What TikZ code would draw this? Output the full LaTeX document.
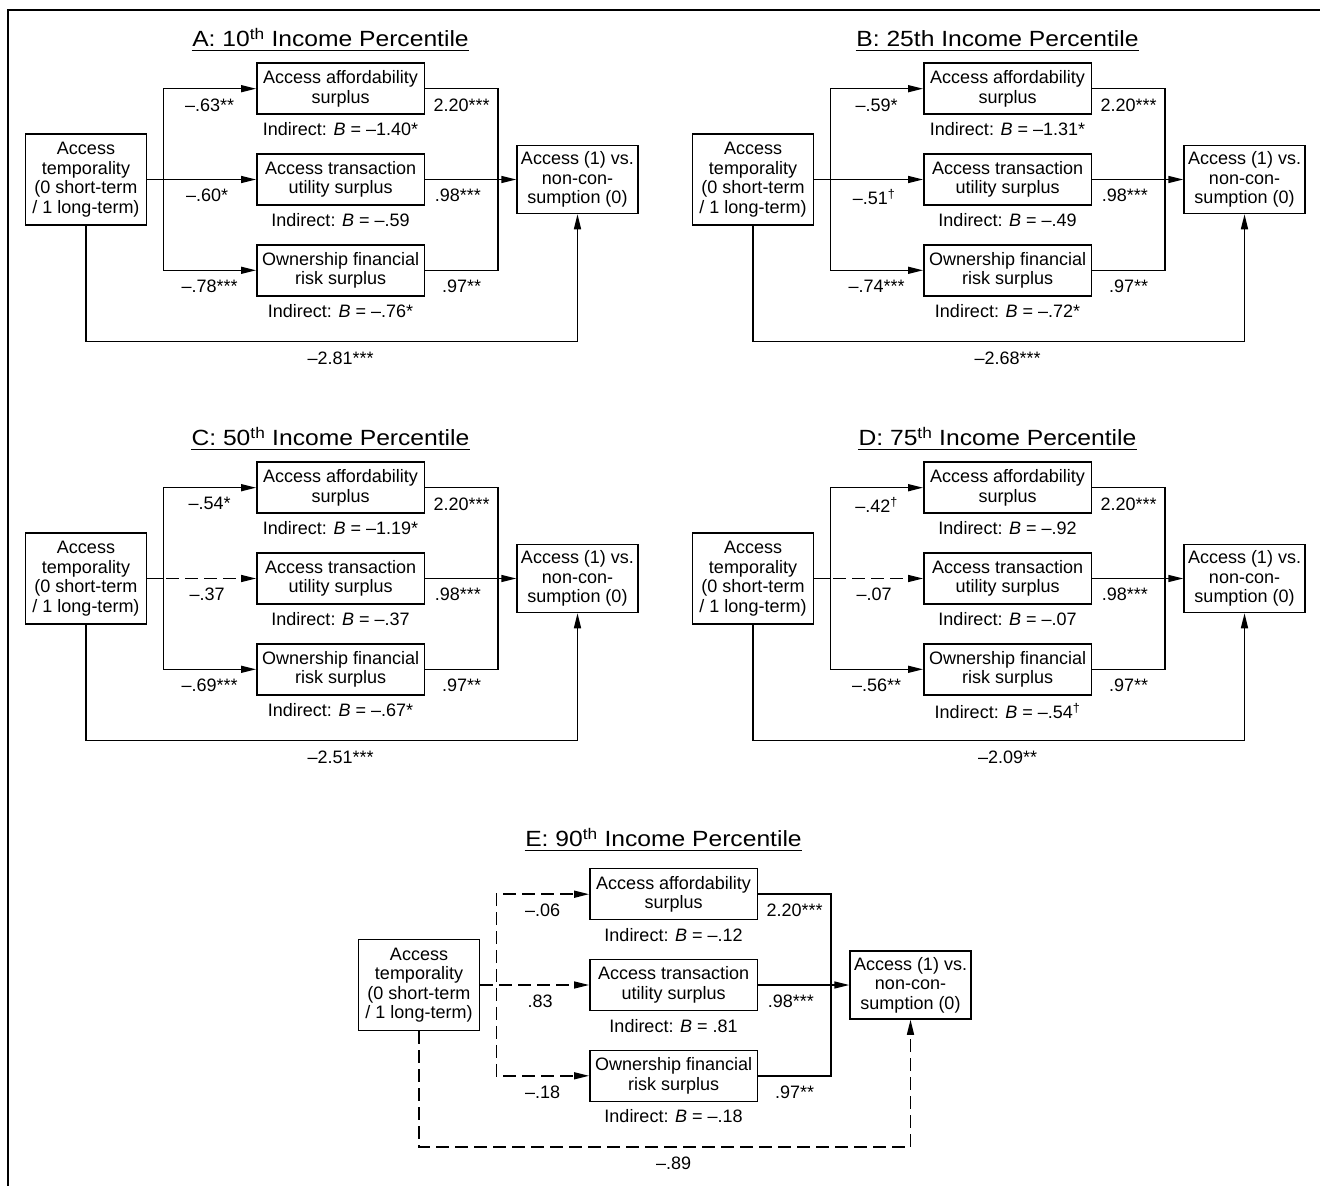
\documentclass[tikz,border=0pt]{standalone}
\usepackage{fontspec}
\setmainfont{Liberation Sans}
\newfontfamily\ttlfont[FakeStretch=1.12]{Liberation Sans}
\usepackage{tikz}
\usetikzlibrary{arrows.meta}

%one panel: name, title, three a paths, three indirect effects, direct path
\newcommand{\mediation}[9]{
		%title
		\node[ttl, ttlpos] (#1-ttl) at (330.5, 46.7) {#2};
		\draw[line width = 1.3pt] ([yshift = -3.5pt]#1-ttl.base west) -- ([yshift = -3.5pt]#1-ttl.base east);
		%boxes
		\node[box, minimum width = 121, minimum height = 91] (#1-src) at (86, 179.5) {Access\\temporality\\(0 short-term\\/ 1 long-term)};
		\node[box, minimum width = 167.6, minimum height = 51] (#1-aff) at (340.6, 88.7) {Access affordability\\surplus};
		\node[box, minimum width = 167.6, minimum height = 51] (#1-trn) at (340.6, 179.5) {Access transaction\\utility surplus};
		\node[box, minimum width = 167.6, minimum height = 51] (#1-own) at (340.6, 270.3) {Ownership financial\\risk surplus};
		\node[box, minimum width = 121, minimum height = 68] (#1-out) at (577.5, 179.5) {Access (1) vs.\\non-con-\\sumption (0)};
		\coordinate (#1-br) at (163.4, 179.5);
		\coordinate (#1-mg) at (498.1, 179.5);
		\coordinate (#1-lp) at (340.6, 341.7);
		%a paths
		\draw[arr, aone] (#1-src) -- (#1-br) |- node[lab, pos = 0.75] (#1-a1) {#3} (#1-aff);
		\draw[arr, atwo] (#1-src) -- node[lab, pos = 0.55] (#1-a2) {#4} (#1-trn);
		\draw[arr, athree] (#1-src) -- (#1-br) |- node[lab, pos = 0.75] (#1-a3) {#5} (#1-own);
		%b paths
		\draw (#1-aff) -| node[lab, pos = 0.25] (#1-b1) {2.20***} (#1-mg);
		\draw[arr] (#1-trn) -- node[lab, pos = 0.36] (#1-b2) {.98***} (#1-out);
		\draw (#1-own) -| node[lab, pos = 0.25] (#1-b3) {.97**} (#1-mg);
		%indirect effects
		\node[ind] (#1-i1) at (#1-aff.south) {Indirect: \textit{B} = #6};
		\node[ind] (#1-i2) at (#1-trn.south) {Indirect: \textit{B} = #7};
		\node[ind] (#1-i3) at (#1-own.south) {Indirect: \textit{B} = #8};
		%direct path
		\draw[arr, cpath] (#1-src) |- (#1-lp) -| (#1-out);
		\node[lab] (#1-c) at (#1-lp) {#9};
}

\begin{document}
\begin{tikzpicture}[x = 1pt, y = -1pt, line width = 1.5pt]
		\tikzset{every node/.style={font = \fontsize{18}{19.5}\selectfont}}
		\tikzset{box/.style={shape = rectangle, draw, align = center, inner sep = 1pt}}
		\tikzset{ttl/.style={font = \ttlfont\fontsize{22}{26}\selectfont, anchor = base, inner sep = 0pt}}
		\tikzset{lab/.style={below = 9pt, inner sep = 0pt}}
		\tikzset{ind/.style={below = 7pt, inner sep = 0pt}}
		\tikzset{arr/.style={-{Triangle[length = 15pt, width = 7pt]}}}
		\tikzset{dashline/.style={dash pattern = on 13pt off 6pt}}
		\tikzset{aone/.style={}, atwo/.style={}, athree/.style={}, cpath/.style={}, ttlpos/.style={}}
		\useasboundingbox (0, 0) rectangle (1320, 1186);
		%frame
		\draw[line width = 2.3pt] (1320, 10) -- (7.8, 10) -- (7.8, 1186);
		%panels
		\begin{scope}
		\mediation{A}{A: 10\textsuperscript{th} Income Percentile}{–.63**}{–.60*}{–.78***}{–1.40*}{–.59}{–.76*}{–2.81***}
		\end{scope}
		\begin{scope}[shift = {(667, 0)}]
		\mediation{B}{B: 25th Income Percentile}{–.59*}{–.51\textsuperscript{†}}{–.74***}{–1.31*}{–.49}{–.72*}{–2.68***}
		\end{scope}
		\begin{scope}[shift = {(0, 399)}, atwo/.style={dashline}]
		\mediation{C}{C: 50\textsuperscript{th} Income Percentile}{–.54*}{–.37}{–.69***}{–1.19*}{–.37}{–.67*}{–2.51***}
		\end{scope}
		\begin{scope}[shift = {(667, 399)}, atwo/.style={dashline}]
		\mediation{D}{D: 75\textsuperscript{th} Income Percentile}{–.42\textsuperscript{†}}{–.07}{–.56**}{–.92}{–.07}{–.54\textsuperscript{†}}{–2.09**}
		\end{scope}
		\begin{scope}[shift = {(333, 805.5)}, ttlpos/.style={yshift = 5.5pt}, aone/.style={dashline}, atwo/.style={dashline}, athree/.style={dashline}, cpath/.style={dashline}]
		\mediation{E}{E: 90\textsuperscript{th} Income Percentile}{–.06}{.83}{–.18}{–.12}{.81}{–.18}{–.89}
		\end{scope}
\end{tikzpicture}
\end{document}
